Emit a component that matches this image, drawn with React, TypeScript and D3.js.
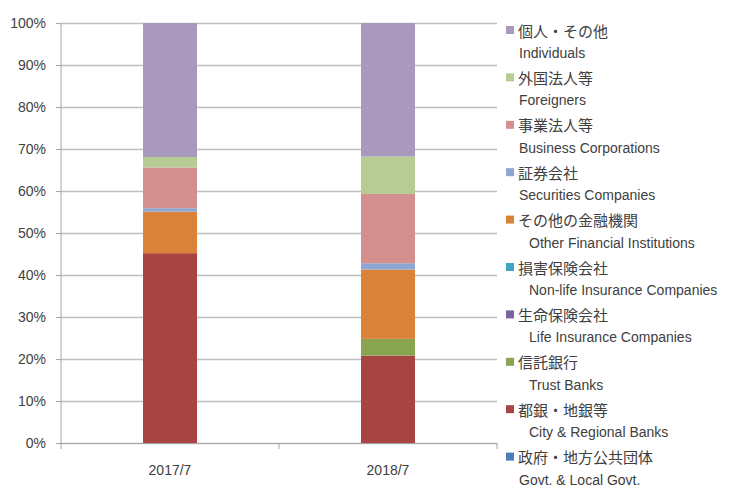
import * as d3 from 'd3';
import { useEffect, useRef } from "react";

const periods = ['2017/7', '2018/7'];

// series, bottom of stack first
const seriesJa = ['政府・地方公共団体', '都銀・地銀等', '信託銀行', '生命保険会社', '損害保険会社', 'その他の金融機関', '証券会社', '事業法人等', '外国法人等', '個人・その他'];
const seriesEn = ['Govt. & Local Govt.', 'City & Regional Banks', 'Trust Banks', 'Life Insurance Companies', 'Non-life Insurance Companies', 'Other Financial Institutions', 'Securities Companies', 'Business Corporations', 'Foreigners', 'Individuals'];
const seriesColors = ['#4a7ebb', '#a84442', '#8aa54f', '#7d60a0', '#3fa6c2', '#db823a', '#8ea6d2', '#d38f8d', '#b7cc94', '#a899bd'];

// share (%) per period, same order as series
const share2017 = [0, 45.2, 0, 0, 0, 9.9, 0.8, 9.7, 2.5, 31.9];
const share2018 = [0, 20.8, 4.0, 0, 0, 16.5, 1.5, 16.5, 8.9, 31.8];

const yTicks = [0, 10, 20, 30, 40, 50, 60, 70, 80, 90, 100];

const App = () => {
    const svgRef = useRef(null);

    useEffect(() => {
        const width = 729, height = 487;
        const svg = d3.select(svgRef.current)
            .attr('width', width)
            .attr('height', height);
        svg.selectAll('*').remove();

        const left = 61, right = 497, top = 23, bottom = 443;

        const x = d3.scaleBand().domain(periods).range([left, right]);
        const y = d3.scaleLinear().domain([0, 100]).range([bottom, top]);
        const barW = 54;

        // gridlines
        svg.append('g')
            .selectAll('line')
            .data(yTicks)
            .enter()
            .append('line')
            .attr('x1', left)
            .attr('x2', right)
            .attr('y1', d => y(d) + 0.5)
            .attr('y2', d => y(d) + 0.5)
            .attr('stroke', '#c0c0c0')
            .attr('stroke-width', 1.3);

        const rows = periods.map((p, i) => {
            const vals = i === 0 ? share2017 : share2018;
            const row = { period: p };
            seriesEn.forEach((s, j) => { row[s] = vals[j]; });
            return row;
        });
        const stacked = d3.stack().keys(seriesEn)(rows);

        stacked.forEach((layer, j) => {
            svg.append('g')
                .selectAll('rect')
                .data(layer)
                .enter()
                .append('rect')
                .attr('x', d => x(d.data.period) + x.bandwidth() / 2 - barW / 2)
                .attr('width', barW)
                .attr('y', d => y(d[1]))
                .attr('height', d => Math.max(0, y(d[0]) - y(d[1])))
                .attr('fill', seriesColors[j]);
        });

        // y axis
        const yAxis = d3.axisLeft(y).tickValues(yTicks).tickFormat(d => d + '%').tickSize(5).tickPadding(10);
        const gy = svg.append('g')
            .attr('transform', 'translate(' + left + ',0)')
            .call(yAxis);
        gy.select('.domain').attr('stroke', '#a6a6a6').attr('d', 'M0,' + top + 'V' + bottom);
        gy.selectAll('.tick line').attr('stroke', '#a6a6a6');
        gy.selectAll('text')
            .attr('fill', '#404040')
            .style('font-family', 'Liberation Sans, Arial, sans-serif')
            .style('font-size', '14px');

        // x axis
        const gx = svg.append('g')
            .attr('transform', 'translate(0,' + bottom + ')');
        gx.append('line')
            .attr('x1', left).attr('x2', right)
            .attr('y1', 0.5).attr('y2', 0.5)
            .attr('stroke', '#a6a6a6');
        gx.selectAll('.xtick')
            .data([left, ...periods.slice(1).map(p => x(p)), right])
            .enter()
            .append('line')
            .attr('x1', d => d).attr('x2', d => d)
            .attr('y1', 0).attr('y2', 6)
            .attr('stroke', '#a6a6a6');
        gx.selectAll('text')
            .data(periods)
            .enter()
            .append('text')
            .attr('x', d => x(d) + x.bandwidth() / 2)
            .attr('y', 32)
            .attr('text-anchor', 'middle')
            .attr('fill', '#404040')
            .style('font-family', 'Liberation Sans, Arial, sans-serif')
            .style('font-size', '14px')
            .text(d => d);

        // legend, top of stack first
        const order = d3.range(seriesEn.length).reverse();
        const lg = svg.append('g');
        order.forEach((j, k) => {
            const cy = 30 + k * 47.4;
            const indent = (k >= 4 && k <= 8) ? 529 : 519;
            lg.append('rect')
                .attr('x', 506).attr('y', cy - 4)
                .attr('width', 8).attr('height', 8)
                .attr('fill', seriesColors[j]);
            lg.append('text')
                .attr('x', 518).attr('y', cy)
                .attr('dominant-baseline', 'central')
                .attr('fill', '#404040')
                .style('font-family', 'Noto Sans CJK JP, sans-serif')
                .style('font-size', '15px')
                .text(seriesJa[j]);
            lg.append('text')
                .attr('x', indent).attr('y', cy + 23)
                .attr('dominant-baseline', 'central')
                .attr('fill', '#404040')
                .style('font-family', 'Liberation Sans, Arial, sans-serif')
                .style('font-size', '14px')
                .text(seriesEn[j]);
        });
    }, []);

    return (
        <div>
            <svg ref={svgRef} style={{ position: 'absolute', left: 0, top: 0, display: 'block' }} />
        </div>
    );
};

export default App;
